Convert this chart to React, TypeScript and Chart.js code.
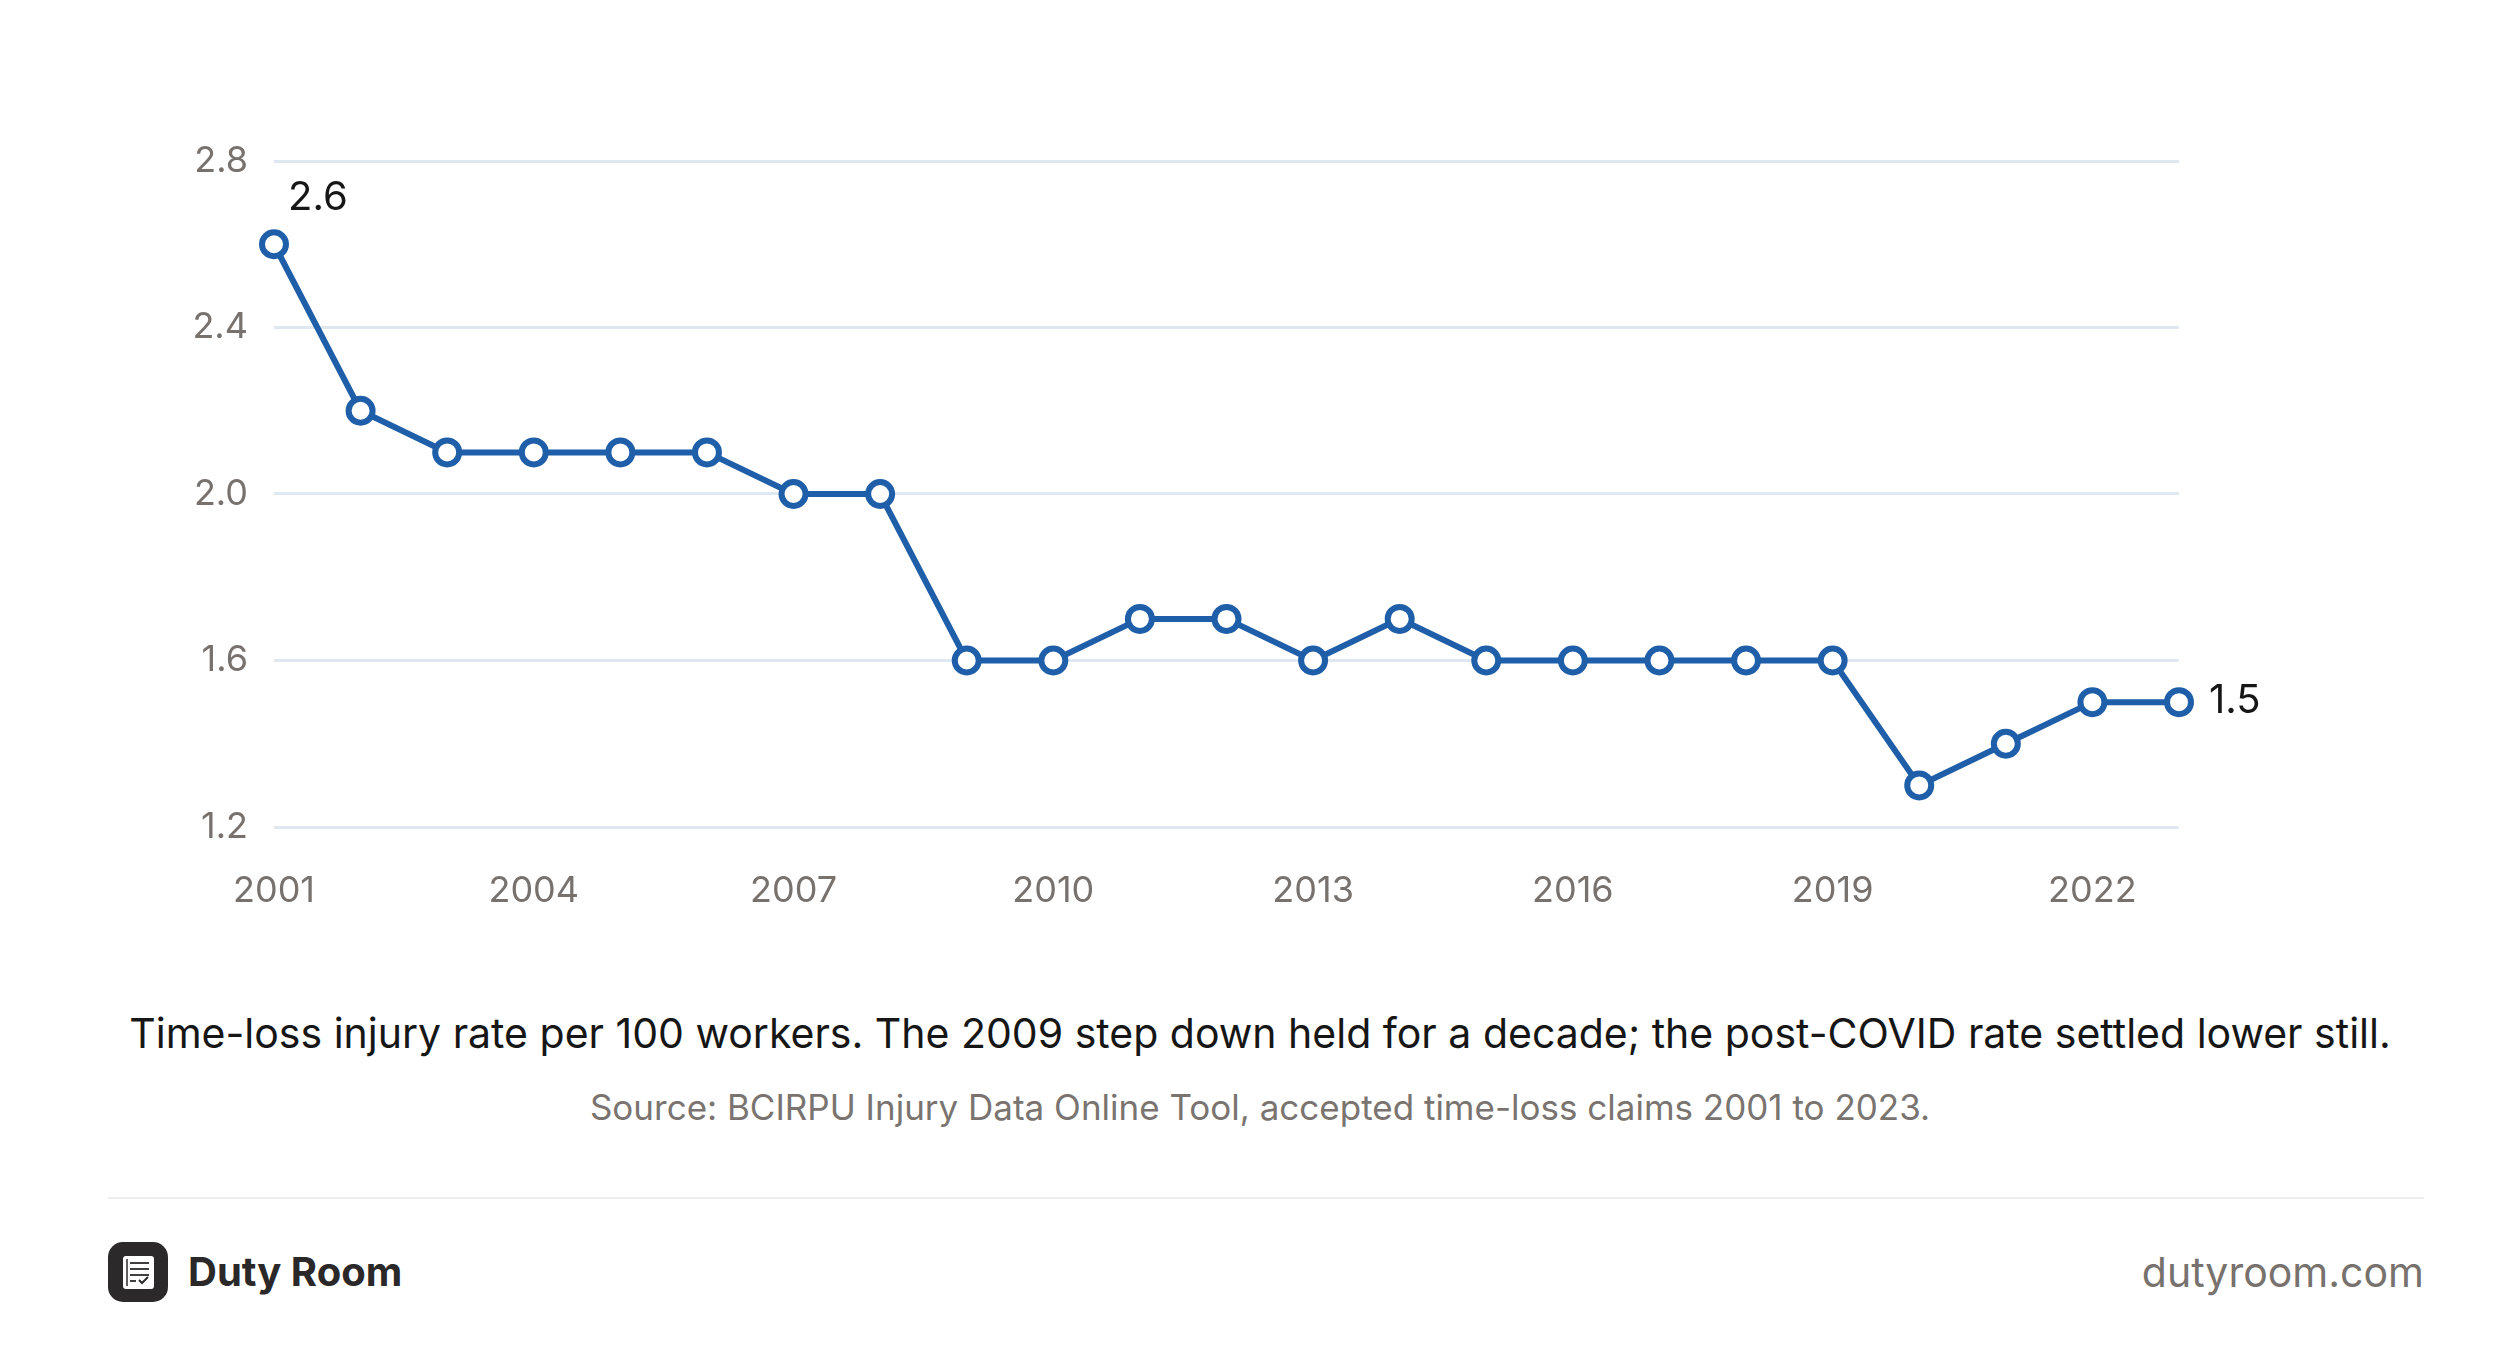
import React, { useEffect, useRef } from "react";
import { Chart, registerables } from "chart.js";
Chart.register(...registerables);

const years = ["2001","2002","2003","2004","2005","2006","2007","2008","2009","2010","2011","2012","2013","2014","2015","2016","2017","2018","2019","2020","2021","2022","2023"];
const rates = [2.6,2.2,2.1,2.1,2.1,2.1,2.0,2.0,1.6,1.6,1.7,1.7,1.6,1.7,1.6,1.6,1.6,1.6,1.6,1.3,1.4,1.5,1.5];
const yTicks = [1.2, 1.6, 2.0, 2.4, 2.8];

const FONT = "Inter, 'Noto Sans', sans-serif";
const BLUE = "#1f5ea8";

const labelPlugin = {
  id: "endLabels",
  afterDatasetsDraw(chart: any) {
    const ctx = chart.ctx;
    const meta = chart.getDatasetMeta(0);
    const first = meta.data[0];
    const last = meta.data[meta.data.length - 1];
    ctx.save();
    ctx.fillStyle = "#161616";
    ctx.font = `40px ${FONT}`;
    ctx.textBaseline = "middle";
    ctx.textAlign = "left";
    ctx.fillText(String(rates[0].toFixed(1)), first.x + 14, first.y - 46);
    ctx.fillText(String(rates[rates.length - 1].toFixed(1)), last.x + 30, last.y - 1);
    ctx.restore();
  },
};

export default function App() {
  const ref = useRef<HTMLCanvasElement>(null);
  useEffect(() => {
    document.body.style.margin = "0";
    const chart = new Chart(ref.current!, {
      type: "line",
      data: {
        labels: years,
        datasets: [{
          data: rates,
          borderColor: BLUE,
          borderWidth: 6,
          pointRadius: 12,
          pointBorderWidth: 6,
          pointBackgroundColor: "#ffffff",
          pointBorderColor: BLUE,
          tension: 0,
        }],
      },
      options: {
        animation: false,
        responsive: false,
        devicePixelRatio: 1,
        layout: { padding: { left: 0, right: 341, top: 161, bottom: 0 } },
        plugins: { legend: { display: false }, tooltip: { enabled: false } },
        scales: {
          x: {
            offset: false,
            grid: { display: false },
            border: { display: false },
            ticks: {
              autoSkip: false,
              maxRotation: 0,
              padding: 35,
              color: "#77726e",
              font: { family: FONT, size: 36 },
              callback: (v: any, i: number) => (i % 3 === 0 ? years[i] : ""),
            },
            afterFit: (s: any) => { s.height = 123; },
          },
          y: {
            min: 1.2,
            max: 2.8,
            afterBuildTicks: (s: any) => { s.ticks = yTicks.map((v) => ({ value: v })); },
            grid: { color: "#dfe7f0", lineWidth: 3, drawTicks: false },
            border: { display: false },
            ticks: {
              padding: 26,
              color: "#77726e",
              font: { family: FONT, size: 36 },
              callback: (v: any) => Number(v).toFixed(1),
            },
            afterFit: (s: any) => { s.width = 274; },
          },
        },
      },
      plugins: [labelPlugin],
    });
    return () => chart.destroy();
  }, []);

  return (
    <div style={{ position: "relative", width: 2520, height: 1362, background: "#fff", fontFamily: FONT, overflow: "hidden" }}>
      <canvas ref={ref} width={2520} height={950} style={{ position: "absolute", left: 0, top: 0 }} />
      <div style={{ position: "absolute", left: 0, width: 2520, top: 1008, textAlign: "center", fontSize: 41, color: "#161616", whiteSpace: "nowrap" }}>
        Time-loss injury rate per 100 workers. The 2009 step down held for a decade; the post-COVID rate settled lower still.
      </div>
      <div style={{ position: "absolute", left: 0, width: 2520, top: 1086, textAlign: "center", fontSize: 35, color: "#7a7470", whiteSpace: "nowrap" }}>
        Source: BCIRPU Injury Data Online Tool, accepted time-loss claims 2001 to 2023.
      </div>
      <div style={{ position: "absolute", left: 108, width: 2316, top: 1197, height: 2, background: "#eeeeee" }} />
      <svg style={{ position: "absolute", left: 108, top: 1242 }} width={60} height={60} viewBox="0 0 60 60">
        <rect x={0} y={0} width={60} height={60} rx={15} fill="#2b2929" />
        <rect x={15} y={14} width={31} height={33} rx={3} fill="#ffffff" />
        <line x1={19} y1={17} x2={19} y2={44} stroke="#2b2929" strokeWidth={1.5} />
        <line x1={22} y1={21} x2={41} y2={21} stroke="#2b2929" strokeWidth={1.8} />
        <line x1={22} y1={27} x2={41} y2={27} stroke="#2b2929" strokeWidth={1.8} />
        <line x1={22} y1={33} x2={41} y2={33} stroke="#2b2929" strokeWidth={1.8} />
        <line x1={22} y1={39} x2={28} y2={39} stroke="#2b2929" strokeWidth={1.8} />
        <polyline points="31,38 34,41 40,35" fill="none" stroke="#2b2929" strokeWidth={2} />
      </svg>
      <div style={{ position: "absolute", left: 188, top: 1245, fontSize: 40, fontWeight: 700, color: "#2a2828", lineHeight: "54px" }}>Duty Room</div>
      <div style={{ position: "absolute", right: 96, top: 1245, fontSize: 41, color: "#77726e", lineHeight: "54px" }}>dutyroom.com</div>
    </div>
  );
}
